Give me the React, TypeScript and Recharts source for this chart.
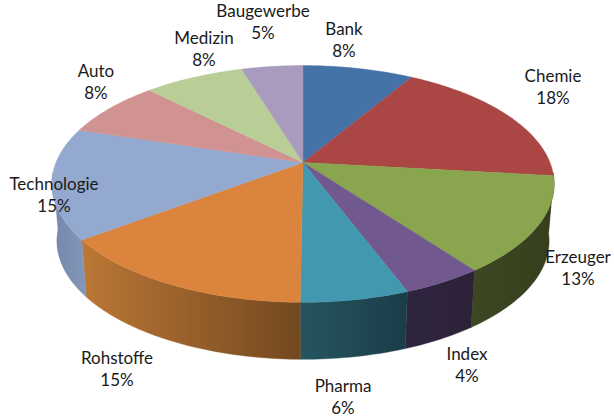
import { PieChart, Pie } from 'recharts';

const categories = ['Bank', 'Chemie', 'Erzeuger', 'Index', 'Pharma', 'Rohstoffe', 'Technologie', 'Auto', 'Medizin', 'Baugewerbe'];
const shares = [8.49, 18.3, 13.1, 4.4, 5.85, 14.55, 15.1, 7.8, 7.7, 4.7];
const topColors = ['#4572A7', '#AA4643', '#89A54E', '#71588F', '#4198AF', '#DB843D', '#93A9CF', '#D19392', '#B9CD96', '#A99BBD'];
const wallFrom = ['#2a4465', '#662a28', '#3d4722', '#302540', '#25555f', '#bb7735', '#7287aa', '#7d5857', '#6f7b5a', '#655d71'];
const wallTo = ['#2a4465', '#662a28', '#363f1d', '#2c2237', '#1a3d48', '#734820', '#8497b9', '#7d5857', '#6f7b5a', '#655d71'];
const labelCenters = [
  [344, 29], [553, 76], [578, 257], [467, 354], [343, 386],
  [117, 358], [54, 184], [96, 71], [204, 38], [263, 11],
];

const chartData = categories.map((name, i) => ({ name, value: shares[i], fill: topColors[i], index: i }));

// Perspective of the tilted disc: the far edge is squeezed, the near edge stretched.
const TILT = 0.114 / 0.247 + 0.002;
const PERSPECTIVE = 0.181;
const WALL_DEPTH = 57;
const LOWER_SCALE = 0.98;

function project(cx: number, cy: number, r: number, deg: number) {
  const rad = (deg * Math.PI) / 180;
  const X = Math.cos(rad);
  const Y = -Math.sin(rad);
  const w = 1 - PERSPECTIVE * Y;
  return { x: cx + (r * X) / w, y: cy + (r * TILT * Y) / w };
}

function arcPoints(cx: number, cy: number, r: number, from: number, to: number) {
  const steps = Math.max(2, Math.ceil(Math.abs(to - from)));
  const pts = [];
  for (let i = 0; i <= steps; i++) {
    pts.push(project(cx, cy, r, from + ((to - from) * i) / steps));
  }
  return pts;
}

const toPath = (pts: { x: number; y: number }[]) =>
  pts.map((p, i) => `${i === 0 ? 'M' : 'L'}${p.x.toFixed(2)},${p.y.toFixed(2)}`).join(' ');

// Recharts hands over the sector angles; draw them as a 3D slice.
function Slice3D(props: any) {
  const { cx, cy, outerRadius, startAngle, endAngle, fill, index } = props;
  const lo = Math.min(startAngle, endAngle);
  const hi = Math.max(startAngle, endAngle);
  const top = arcPoints(cx, cy, outerRadius, startAngle, endAngle);

  // only the front of the rim shows: math angles -175..-5 (0 is the right edge, clockwise is negative)
  const wallLo = Math.max(lo, -175);
  const wallHi = Math.min(hi, -5);
  let wallPath = '';
  if (wallHi > wallLo) {
    const upper = arcPoints(cx, cy, outerRadius, wallHi, wallLo);
    const lower = upper
      .map((p) => ({ x: cx + (p.x - cx) * LOWER_SCALE, y: p.y + WALL_DEPTH }))
      .reverse();
    wallPath = `${toPath(upper)} ${toPath(lower).replace('M', 'L')} Z`;
  }
  const gradId = `wall-${index}`;

  return (
    <g>
      {wallPath && (
        <>
          <defs>
            <linearGradient id={gradId} x1="0" y1="0" x2="1" y2="0">
              <stop offset="0%" stopColor={wallFrom[index]} />
              <stop offset="100%" stopColor={wallTo[index]} />
            </linearGradient>
          </defs>
          <path d={wallPath} fill={`url(#${gradId})`} stroke={`url(#${gradId})`} strokeWidth={0.4} />
        </>
      )}
      <path d={`M${cx},${cy} ${toPath(top).replace('M', 'L')} Z`} fill={fill} stroke={fill} strokeWidth={0.4} />
    </g>
  );
}

function SliceLabel(props: any) {
  const { index } = props;
  const [x, y] = labelCenters[index];
  return (
    <text textAnchor="middle" fontFamily="Lato" fontSize={17} fill="#1a1a1a">
      <tspan x={x} y={y + 6}>{categories[index]}</tspan>
      <tspan x={x} y={y + 28}>{`${Math.round(shares[index])}%`}</tspan>
    </text>
  );
}

export default function App() {
  return (
    <div style={{ position: 'absolute', left: 0, top: 0, width: 614, height: 417, background: '#fff' }}>
      <PieChart width={614} height={417} margin={{ top: 0, right: 0, bottom: 0, left: 0 }}>
        <Pie
          data={chartData}
          dataKey="value"
          nameKey="name"
          cx={303}
          cy={162.5}
          innerRadius={0}
          outerRadius={247}
          startAngle={90}
          endAngle={-270}
          shape={Slice3D}
          label={SliceLabel}
          labelLine={false}
          stroke="none"
          isAnimationActive={false}
        />
      </PieChart>
    </div>
  );
}
